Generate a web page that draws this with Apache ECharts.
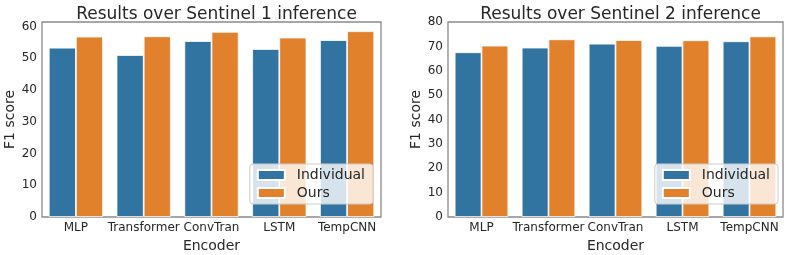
<!DOCTYPE html>
<html>
<head>
<meta charset="utf-8">
<script src="https://cdn.jsdelivr.net/npm/echarts@6/dist/echarts.min.js"></script>
<style>html,body{margin:0;padding:0;background:#fff}#c{width:793px;height:255px}</style>
</head>
<body>
<div id="c"></div>
<script>
const categories = ['MLP', 'Transformer', 'ConvTran', 'LSTM', 'TempCNN'];
const s1Individual = [53.3, 51.0, 55.4, 52.9, 55.7];
const s1Ours = [56.8, 56.9, 58.3, 56.5, 58.5];
const s2Individual = [67.6, 69.5, 71.1, 70.2, 72.1];
const s2Ours = [70.3, 72.9, 72.6, 72.5, 74.1];
const titles = ['Results over Sentinel 1 inference', 'Results over Sentinel 2 inference'];
const seriesNames = ['Individual', 'Ours'];

const FONT = 'DejaVu Sans';
const TXT = '#262626';
const BLUE = '#3274a1', ORANGE = '#e1812c';
const grids = [
  {left: 42, right: 412, top: 22, bottom: 38},
  {left: 448, right: 10, top: 22, bottom: 38}
];
const yMax = [61.4, 80];

const chart = echarts.init(document.getElementById('c'), null, {renderer: 'canvas'});
const option = {
  animation: false,
  textStyle: {fontFamily: FONT, color: TXT},
  title: grids.map((g, i) => ({
    text: titles[i],
    left: i === 0 ? (42 + 381) / 2 : (448 + 783) / 2,
    textAlign: 'center',
    top: 1,
    textStyle: {fontFamily: FONT, fontSize: 17, fontWeight: 'normal', color: TXT}
  })),
  grid: grids.map(g => Object.assign({show: true, containLabel: false, outerBoundsMode: 'none', borderColor: '#8a8a8a', borderWidth: 1.3, backgroundColor: 'transparent'}, g)),
  legend: [0, 1].map(i => ({
    data: seriesNames,
    orient: 'vertical',
    right: i === 0 ? 793 - 373 : 793 - 783 + 5,
    top: 164,
    itemWidth: 27,
    itemHeight: 10,
    itemGap: 4,
    padding: [4, 8, 4, 7],
    icon: 'rect',
    backgroundColor: 'rgba(255,255,255,0.8)',
    borderColor: '#cccccc',
    borderWidth: 1,
    borderRadius: 3,
    selectedMode: false,
    textStyle: {fontFamily: FONT, fontSize: 14, color: TXT, padding: [0, 0, 0, 7]},
    z: 10
  })),
  xAxis: [0, 1].map(i => ({
    type: 'category',
    gridIndex: i,
    data: categories,
    name: 'Encoder',
    nameLocation: 'middle',
    nameGap: 17,
    nameTextStyle: {fontFamily: FONT, fontSize: 14, color: TXT},
    axisLine: {show: false},
    axisTick: {show: false},
    axisLabel: {fontFamily: FONT, fontSize: 12, color: TXT, margin: 5, interval: 0}
  })),
  yAxis: [0, 1].map(i => ({
    type: 'value',
    gridIndex: i,
    min: 0,
    max: yMax[i],
    interval: 10,
    name: 'F1 score',
    nameLocation: 'middle',
    nameGap: 24,
    nameTextStyle: {fontFamily: FONT, fontSize: 14, color: TXT},
    axisLine: {show: false},
    axisTick: {show: false},
    splitLine: {show: false},
    axisLabel: {fontFamily: FONT, fontSize: 12, color: TXT, margin: 5, showMaxLabel: i === 1}
  })),
  series: [
    {name: 'Individual', data: s1Individual, xAxisIndex: 0, yAxisIndex: 0, color: BLUE},
    {name: 'Ours', data: s1Ours, xAxisIndex: 0, yAxisIndex: 0, color: ORANGE},
    {name: 'Individual', data: s2Individual, xAxisIndex: 1, yAxisIndex: 1, color: BLUE},
    {name: 'Ours', data: s2Ours, xAxisIndex: 1, yAxisIndex: 1, color: ORANGE}
  ].map(s => Object.assign({
    type: 'bar',
    barGap: '0%',
    barCategoryGap: '20%',
    itemStyle: {color: s.color, borderColor: '#ffffff', borderWidth: 0.8},
    z: 2
  }, s))
};
chart.setOption(option);
</script>
</body>
</html>
